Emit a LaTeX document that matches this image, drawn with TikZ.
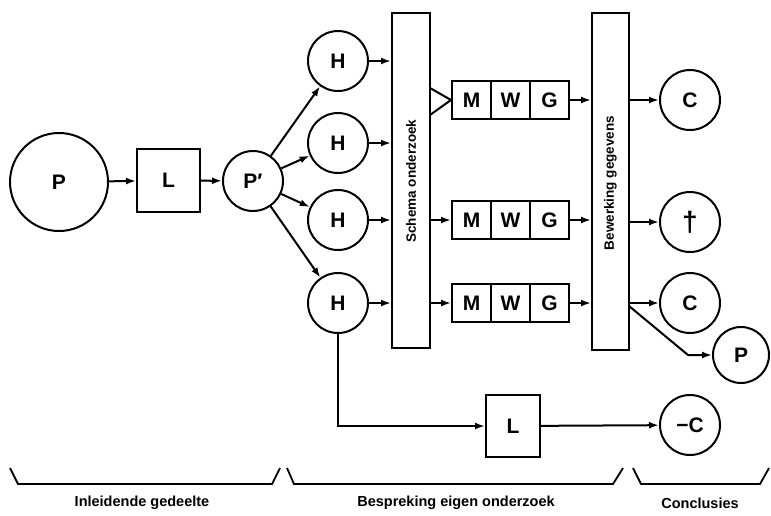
\documentclass[tikz,border=0pt]{standalone}
\usepackage{fontspec}
\setmainfont{Liberation Sans}
\usetikzlibrary{arrows.meta}
\begin{document}
\begin{tikzpicture}[x=1pt,y=-1pt, line width=2pt,
  circ/.style={draw, circle, inner sep=0pt, minimum size=#1, font=\bfseries\fontsize{21}{22}\selectfont},
  sq/.style={draw, rectangle, inner sep=0pt, font=\bfseries\fontsize{21}{22}\selectfont},
  cell/.style={sq, minimum width=39pt, minimum height=38pt},
  arr/.style={-{Latex[length=10pt,width=7pt]}},
  lbl/.style={font=\bfseries\fontsize{14.5}{16}\selectfont},
  vlbl/.style={font=\bfseries\fontsize{13.5}{15}\selectfont, rotate=90},
  bar/.style={draw, rectangle, inner sep=0pt},
  brace/.style={line width=1.8pt}
]
\useasboundingbox (0,0) rectangle (771,515);

% left part
\node[circ=98pt] (P) at (59,182) {P};
\node[sq, minimum width=63pt, minimum height=63pt] (L) at (168.5,180.5) {L};
\node[circ=60pt] (Pp) at (253,181) {P′};

% hypotheses
\node[circ=60pt] (H1) at (338,61) {H};
\node[circ=60pt] (H2) at (338,143) {H};
\node[circ=60pt] (H3) at (338,220) {H};
\node[circ=60pt] (H4) at (338,303) {H};

% bars
\node[bar, minimum width=38pt, minimum height=335pt] (S) at (411,180.5) {};
\node[vlbl] (St) at (411,181) {Schema onderzoek};
\node[bar, minimum width=37pt, minimum height=337pt] (B) at (610.5,181.5) {};
\node[vlbl] (Bt) at (610.5,183) {Bewerking gegevens};

% MWG rows
\node[cell] (M1) at (471.5,100) {M};
\node[cell] (W1) at (510.5,100) {W};
\node[cell] (G1) at (549.5,100) {G};
\node[cell] (M2) at (471.5,220) {M};
\node[cell] (W2) at (510.5,220) {W};
\node[cell] (G2) at (549.5,220) {G};
\node[cell] (M3) at (471.5,303) {M};
\node[cell] (W3) at (510.5,303) {W};
\node[cell] (G3) at (549.5,303) {G};

% outputs
\node[circ=60pt] (C1) at (690,100) {C};
\node[circ=60pt, font=\bfseries\fontsize{28}{28}\selectfont] (D) at (690,222) {†};
\node[circ=60pt] (C2) at (690,303) {C};
\node[circ=56pt] (P2) at (741,355) {P};
\node[sq, minimum width=54pt, minimum height=62pt] (L2) at (513,426) {L};
\node[circ=60pt] (NC) at (690,425) {−C};

% connectors
\draw[arr] (P) -- (L);
\draw[arr] (L) -- (Pp);
\draw[arr] (Pp) -- (H1);
\draw[arr] (Pp) -- (H2);
\draw[arr] (Pp) -- (H3);
\draw[arr] (Pp) -- (H4);
\foreach \h in {H1,H2,H3,H4} \draw[arr] (\h) -- (\h -| S.west);

\coordinate (t1) at (430,88);
\coordinate (t2) at (430,115);
\draw (t1) -- (M1.west) -- (t2);
\draw[arr] (S.east |- M2) -- (M2.west);
\draw[arr] (S.east |- M3) -- (M3.west);

\draw[arr] (G1.east) -- (G1.east -| B.west);
\draw[arr] (G2.east) -- (G2.east -| B.west);
\draw[arr] (G3.east) -- (G3.east -| B.west);

\draw[arr] (B.east |- C1) -- (C1);
\draw[arr] (B.east |- D) -- (D);
\draw[arr] (B.east |- C2) -- (C2);
\coordinate (k0) at (629,306);
\coordinate (k1) at (688,355);
\draw[arr] (k0) -- (k1) -- (P2);

\draw[arr] (H4.south) |- (L2.west);
\draw[arr] (L2) -- (NC);

% braces
\draw[brace] (10,468) -- (18,484) -- (272,484) -- (280,468);
\draw[brace] (287,468) -- (294,484) -- (613,484) -- (623,468);
\draw[brace] (633,468) -- (641,484) -- (760,484) -- (769,468);

\node[lbl] (T1) at (142,503) {Inleidende gedeelte};
\node[lbl] (T2) at (456,503) {Bespreking eigen onderzoek};
\node[lbl] (T3) at (700,503) {Conclusies};
\end{tikzpicture}
\end{document}
